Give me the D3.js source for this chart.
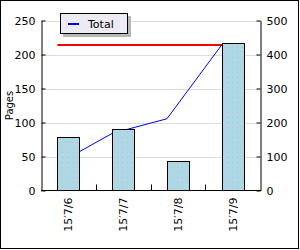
<!DOCTYPE html>
<html><head><meta charset="utf-8">
<script src="https://cdn.jsdelivr.net/npm/d3@7"></script>
<style>body{margin:0;background:#fff}svg{display:block}text{font-family:"DejaVu Sans",sans-serif}</style>
</head><body>
<script>
const categories = ["15′7/6", "15′7/7", "15′7/8", "15′7/9"];
const pages = [78, 90, 43, 217];
const cumulative = [78, 168, 211, 428];
const totalLine = 428;
const leftTicks = [0, 50, 100, 150, 200, 250];
const rightTicks = [0, 100, 200, 300, 400, 500];
const seriesName = "Total";
const yTitle = "Pages";

const W = 300, H = 250;
const L = 41, R = 260, T = 20.5, B = 190.5;
const svg = d3.select("body").append("svg").attr("width", W).attr("height", H);

const defs = svg.append("defs");
const pat = defs.append("pattern").attr("id", "dots").attr("patternUnits", "userSpaceOnUse")
  .attr("width", 5).attr("height", 5);
pat.append("rect").attr("width", 5).attr("height", 5).attr("fill", "#add8e6");
pat.append("rect").attr("x", 2).attr("y", 2).attr("width", 1).attr("height", 1).attr("fill", "#d9b3b8");

svg.append("rect").attr("x", 0.5).attr("y", 0.5).attr("width", 298).attr("height", 248)
  .attr("fill", "#fff").attr("stroke", "#000");

const x = d3.scaleBand().domain(categories).range([L, R]).paddingInner(0.6).paddingOuter(0.3);
const yL = d3.scaleLinear().domain([0, 250]).range([B, T]);
const yR = d3.scaleLinear().domain([0, 500]).range([B, T]);

// gridlines
svg.append("g").selectAll("line").data(leftTicks.filter(d => d > 0)).join("line")
  .attr("x1", L).attr("x2", R).attr("y1", d => Math.round(yL(d)) + 0.5).attr("y2", d => Math.round(yL(d)) + 0.5)
  .attr("stroke", "#dcdcdc");

// red total line
svg.append("line").attr("x1", x(categories[0])).attr("x2", x(categories[3]) + x.bandwidth())
  .attr("y1", yR(totalLine)).attr("y2", yR(totalLine)).attr("stroke", "#ff0000").attr("stroke-width", 2);

// blue cumulative line
svg.append("path").datum(cumulative)
  .attr("d", d3.line().x((d, i) => x(categories[i])).y(d => yR(d)))
  .attr("fill", "none").attr("stroke", "#0000ff").attr("stroke-width", 1);

// bars
svg.append("g").selectAll("rect").data(pages).join("rect")
  .attr("x", (d, i) => Math.round(x(categories[i])) + 0.5)
  .attr("width", Math.round(x.bandwidth()))
  .attr("y", d => Math.round(yL(d)) + 0.5)
  .attr("height", d => B - 0.5 - Math.round(yL(d)) - 0.5 + 0.5)
  .attr("fill", "url(#dots)").attr("stroke", "#000").attr("stroke-width", 1);

// left axis
const gl = svg.append("g").attr("transform", `translate(${L + 0.5},0)`);
gl.call(d3.axisLeft(yL).tickValues(d3.range(0, 251, 10)).tickSize(-2).tickFormat(""));
gl.call(d3.axisLeft(yL).tickValues(leftTicks).tickSizeInner(-4).tickSizeOuter(0).tickPadding(6));
gl.selectAll("text").attr("font-size", 11).attr("fill", "#000");
gl.selectAll("line,path").attr("stroke", "#000");

// right axis
const gr = svg.append("g").attr("transform", `translate(${R + 0.5},0)`);
gr.call(d3.axisRight(yR).tickValues(d3.range(0, 501, 50)).tickSize(-2).tickFormat(""));
gr.call(d3.axisRight(yR).tickValues(rightTicks).tickSizeInner(-4).tickSizeOuter(0).tickPadding(6));
gr.selectAll("text").attr("font-size", 11).attr("fill", "#000");
gr.selectAll("line,path").attr("stroke", "#000");

// bottom axis
svg.append("line").attr("x1", L).attr("x2", R + 1).attr("y1", B).attr("y2", B).attr("stroke", "#000");
const step = x.step();
svg.append("g").selectAll("line").data(categories.slice(1)).join("line")
  .attr("x1", d => Math.round(x(d) - (step - x.bandwidth()) / 2) + 0.5)
  .attr("x2", d => Math.round(x(d) - (step - x.bandwidth()) / 2) + 0.5)
  .attr("y1", B).attr("y2", B - 6).attr("stroke", "#000");
svg.append("g").selectAll("text").data(categories).join("text")
  .attr("transform", d => `translate(${x(d) + x.bandwidth() / 2 + 0.5},${B + 7}) rotate(-90)`)
  .attr("text-anchor", "end").attr("dominant-baseline", "central")
  .attr("font-size", 11).text(d => d);

// y title
svg.append("text").attr("transform", `translate(9,${(T + B) / 2}) rotate(-90)`)
  .attr("text-anchor", "middle").attr("dominant-baseline", "central").attr("font-size", 10).text(yTitle);

// legend
const lg = svg.append("g");
lg.append("rect").attr("x", 63).attr("y", 16).attr("width", 68).attr("height", 21).attr("fill", "#b8b8b8");
lg.append("rect").attr("x", 60.5).attr("y", 13.5).attr("width", 67).attr("height", 20).attr("fill", "#eceaf2").attr("stroke", "#000");
lg.append("line").attr("x1", 68).attr("x2", 79).attr("y1", 24).attr("y2", 24).attr("stroke", "#0000ff").attr("stroke-width", 2);
lg.append("text").attr("x", 88).attr("y", 24).attr("dominant-baseline", "central").attr("font-size", 11).text(seriesName);
</script>
</body></html>
